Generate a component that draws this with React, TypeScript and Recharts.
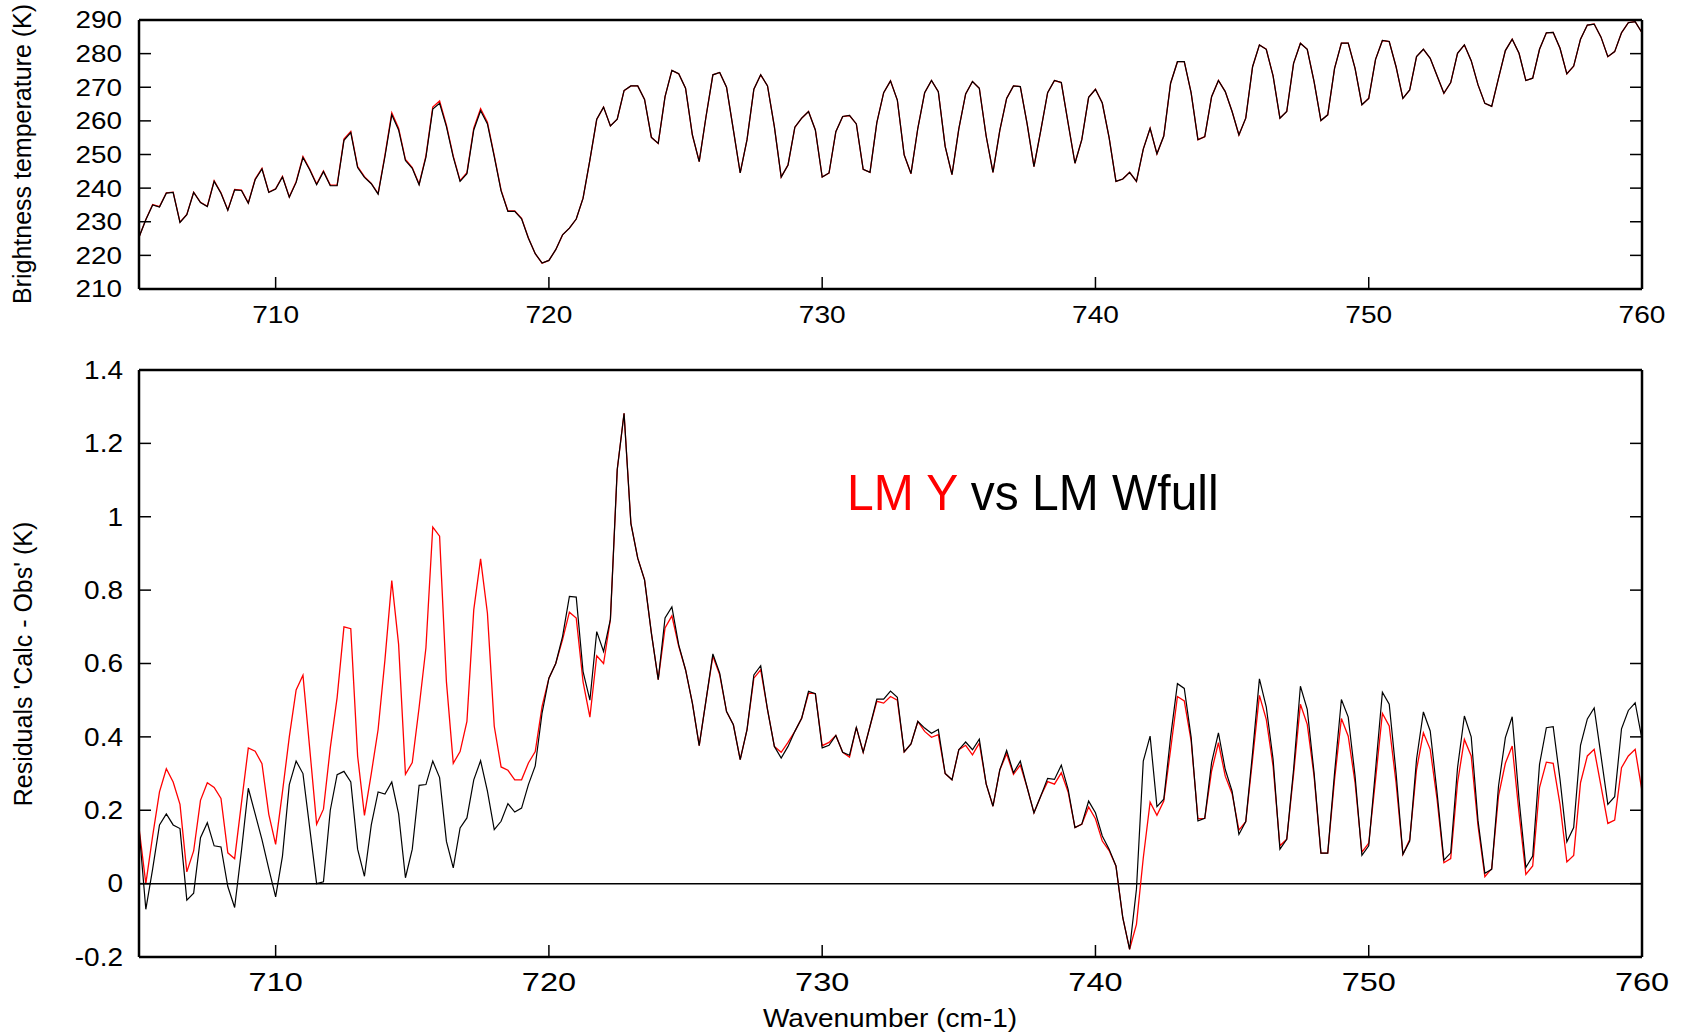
import React from "react";
import { LineChart, Line, XAxis, YAxis, ReferenceLine } from "recharts";

// IASI-like sampling: 705 .. 760 cm-1 every 0.25 cm-1
const WN_START = 705;
const WN_STEP = 0.25;

const xTicks = [710, 720, 730, 740, 750, 760];
const btTicks = [210, 220, 230, 240, 250, 260, 270, 280, 290];
const resTicks = [-0.2, 0, 0.2, 0.4, 0.6, 0.8, 1, 1.2, 1.4];

// brightness temperature (K)
const btLMWfull = [
  225.4, 230.6, 235.0, 234.4, 238.5, 238.7, 229.8, 232.1, 238.7, 235.7,
  234.5, 242.0, 238.5, 233.4, 239.5, 239.3, 235.5, 242.5, 245.7, 238.7,
  239.7, 243.3, 237.3, 241.7, 249.1, 245.4, 241.0, 244.9, 240.7, 240.7,
  254.2, 256.5, 246.1, 243.2, 241.3, 238.2, 249.4, 261.8, 257.3, 248.2,
  245.9, 241.0, 249.2, 263.5, 265.2, 258.3, 249.2, 242.0, 244.3, 257.3,
  263.0, 259.1, 249.4, 239.2, 233.1, 233.1, 230.9, 225.1, 220.5, 217.7,
  218.5, 221.7, 226.1, 228.1, 230.8, 237.0, 248.4, 260.5, 264.1, 258.5,
  260.5, 269.0, 270.4, 270.4, 266.4, 255.1, 253.3, 267.2, 275.0, 274.0,
  269.7, 255.8, 247.9, 261.3, 273.7, 274.4, 270.0, 257.3, 244.5, 254.4,
  269.4, 273.7, 270.4, 258.3, 243.3, 246.9, 258.1, 260.8, 262.8, 257.3,
  243.3, 244.5, 256.8, 261.3, 261.6, 259.1, 245.6, 244.7, 259.5, 268.4,
  271.9, 266.2, 249.9, 244.3, 257.8, 268.4, 272.0, 268.7, 252.4, 244.0,
  257.6, 268.0, 271.7, 269.7, 255.5, 244.7, 257.2, 266.7, 270.4, 270.2,
  259.1, 246.4, 257.2, 268.4, 272.0, 271.4, 259.3, 247.4, 254.4, 267.0,
  269.4, 265.3, 255.0, 242.0, 242.7, 244.7, 242.0, 251.6, 257.8, 250.2,
  255.5, 271.2, 277.6, 277.6, 268.4, 254.4, 255.3, 267.2, 272.0, 268.7,
  262.8, 255.8, 260.8, 276.1, 282.6, 281.3, 273.4, 260.8, 262.8, 277.1,
  283.1, 281.3, 271.7, 260.1, 261.8, 275.6, 283.1, 283.1, 275.6, 264.8,
  266.7, 278.3, 283.9, 283.6, 276.1, 266.7, 269.2, 279.1, 281.3, 278.6,
  273.4, 268.2, 271.4, 280.1, 282.6, 277.9, 270.7, 265.2, 264.3, 272.7,
  280.9, 284.3, 280.1, 272.0, 272.7, 281.3, 286.2, 286.3, 281.6, 274.0,
  276.3, 284.3, 288.5, 288.8, 284.9, 279.1, 280.6, 286.2, 289.2, 289.5,
  286.2,
];

const btLMY = [
  225.4, 230.7, 235.1, 234.5, 238.6, 238.8, 229.9, 232.2, 238.8, 235.8,
  234.6, 242.2, 238.6, 233.5, 239.6, 239.4, 235.6, 242.7, 245.9, 238.8,
  239.8, 243.5, 237.4, 241.9, 249.4, 245.6, 241.2, 245.1, 240.9, 240.9,
  254.6, 256.9, 246.4, 243.4, 241.4, 238.4, 249.8, 262.4, 257.8, 248.5,
  246.1, 241.2, 249.6, 264.1, 265.9, 258.7, 249.5, 242.2, 244.6, 257.8,
  263.6, 259.6, 249.7, 239.4, 233.2, 233.2, 231.0, 225.2, 220.5, 217.7,
  218.5, 221.7, 226.1, 228.1, 230.8, 237.0, 248.3, 260.4, 264.1, 258.5,
  260.5, 269.0, 270.4, 270.4, 266.4, 255.1, 253.3, 267.2, 275.0, 274.0,
  269.7, 255.8, 247.9, 261.3, 273.7, 274.4, 270.0, 257.3, 244.5, 254.4,
  269.4, 273.7, 270.4, 258.3, 243.3, 246.9, 258.1, 260.8, 262.8, 257.3,
  243.3, 244.5, 256.8, 261.3, 261.6, 259.1, 245.6, 244.7, 259.5, 268.4,
  271.9, 266.2, 249.9, 244.3, 257.8, 268.4, 272.0, 268.7, 252.4, 244.0,
  257.6, 268.0, 271.7, 269.7, 255.5, 244.7, 257.2, 266.7, 270.4, 270.2,
  259.1, 246.4, 257.2, 268.4, 272.0, 271.4, 259.3, 247.4, 254.4, 267.0,
  269.4, 265.3, 255.0, 242.0, 242.7, 244.7, 242.0, 251.6, 257.8, 250.2,
  255.5, 271.2, 277.6, 277.6, 268.4, 254.4, 255.3, 267.2, 272.0, 268.7,
  262.8, 255.8, 260.8, 276.1, 282.6, 281.3, 273.4, 260.8, 262.8, 277.1,
  283.1, 281.3, 271.7, 260.1, 261.8, 275.6, 283.1, 283.1, 275.6, 264.8,
  266.7, 278.3, 283.9, 283.6, 276.1, 266.7, 269.2, 279.1, 281.3, 278.6,
  273.4, 268.2, 271.4, 280.1, 282.6, 277.9, 270.7, 265.2, 264.3, 272.7,
  280.9, 284.3, 280.1, 272.0, 272.7, 281.3, 286.2, 286.3, 281.6, 274.0,
  276.3, 284.3, 288.5, 288.8, 284.9, 279.1, 280.6, 286.2, 289.2, 289.5,
  286.2,
];

// residuals calc - obs (K)
const resLMWfull = [
  0.15, -0.07, 0.04, 0.16, 0.19, 0.16, 0.15, -0.045, -0.026, 0.125,
  0.166, 0.103, 0.1, -0.008, -0.065, 0.09, 0.26, 0.19, 0.12, 0.04,
  -0.036, 0.075, 0.27, 0.334, 0.3, 0.15, 0.0, 0.005, 0.2, 0.297,
  0.306, 0.277, 0.094, 0.02, 0.16, 0.25, 0.244, 0.277, 0.19, 0.016,
  0.094, 0.268, 0.27, 0.334, 0.289, 0.115, 0.043, 0.152, 0.179, 0.283,
  0.335, 0.252, 0.147, 0.17, 0.218, 0.195, 0.206, 0.27, 0.321, 0.465,
  0.56, 0.6, 0.674, 0.783, 0.781, 0.578, 0.5, 0.687, 0.633, 0.72,
  1.128, 1.282, 0.982, 0.887, 0.828, 0.683, 0.556, 0.724, 0.754, 0.651,
  0.583, 0.492, 0.376, 0.5, 0.626, 0.574, 0.469, 0.433, 0.338, 0.42,
  0.569, 0.594, 0.474, 0.374, 0.342, 0.374, 0.415, 0.451, 0.524, 0.518,
  0.37, 0.377, 0.404, 0.358, 0.35, 0.426, 0.358, 0.429, 0.503, 0.503,
  0.525, 0.508, 0.359, 0.381, 0.442, 0.424, 0.41, 0.42, 0.3, 0.283,
  0.365, 0.386, 0.365, 0.394, 0.272, 0.211, 0.31, 0.363, 0.302, 0.334,
  0.262, 0.193, 0.239, 0.287, 0.284, 0.323, 0.257, 0.153, 0.162, 0.225,
  0.193, 0.13, 0.094, 0.048, -0.093, -0.179, -0.015, 0.334, 0.402, 0.21,
  0.23, 0.4, 0.545, 0.532, 0.4, 0.171, 0.178, 0.33, 0.411, 0.311,
  0.252, 0.134, 0.169, 0.357, 0.558, 0.482, 0.339, 0.094, 0.121, 0.311,
  0.538, 0.475, 0.302, 0.083, 0.083, 0.302, 0.502, 0.454, 0.293, 0.077,
  0.103, 0.311, 0.522, 0.489, 0.302, 0.08, 0.116, 0.339, 0.468, 0.416,
  0.248, 0.064, 0.084, 0.316, 0.457, 0.4, 0.171, 0.028, 0.039, 0.266,
  0.398, 0.455, 0.23, 0.044, 0.075, 0.325, 0.425, 0.428, 0.284, 0.114,
  0.153, 0.377, 0.449, 0.479, 0.348, 0.216, 0.237, 0.422, 0.472, 0.493,
  0.393,
];

const resLMY = [
  0.153, 0.0, 0.13, 0.25, 0.313, 0.277, 0.216, 0.032, 0.089, 0.227,
  0.275, 0.262, 0.232, 0.084, 0.068, 0.22, 0.37, 0.361, 0.327, 0.189,
  0.107, 0.25, 0.4, 0.528, 0.568, 0.366, 0.162, 0.203, 0.37, 0.507,
  0.7, 0.695, 0.348, 0.186, 0.3, 0.42, 0.61, 0.826, 0.652, 0.298,
  0.33, 0.48, 0.643, 0.972, 0.947, 0.55, 0.328, 0.36, 0.442, 0.746,
  0.885, 0.737, 0.429, 0.318, 0.309, 0.283, 0.283, 0.329, 0.36, 0.483,
  0.56, 0.6, 0.665, 0.74, 0.724, 0.55, 0.454, 0.621, 0.6, 0.72,
  1.128, 1.282, 0.982, 0.887, 0.828, 0.683, 0.556, 0.697, 0.73, 0.647,
  0.583, 0.492, 0.376, 0.5, 0.62, 0.569, 0.469, 0.433, 0.338, 0.42,
  0.56, 0.583, 0.474, 0.374, 0.358, 0.385, 0.415, 0.451, 0.519, 0.518,
  0.376, 0.385, 0.404, 0.358, 0.345, 0.426, 0.358, 0.429, 0.497, 0.492,
  0.51, 0.5, 0.359, 0.381, 0.442, 0.415, 0.399, 0.406, 0.3, 0.283,
  0.365, 0.377, 0.351, 0.383, 0.272, 0.211, 0.31, 0.354, 0.298, 0.323,
  0.262, 0.193, 0.239, 0.278, 0.271, 0.302, 0.25, 0.153, 0.162, 0.209,
  0.177, 0.116, 0.09, 0.048, -0.093, -0.179, -0.111, 0.07, 0.222, 0.186,
  0.225, 0.366, 0.51, 0.498, 0.39, 0.177, 0.178, 0.307, 0.384, 0.293,
  0.245, 0.146, 0.169, 0.339, 0.513, 0.448, 0.32, 0.103, 0.121, 0.298,
  0.489, 0.434, 0.293, 0.083, 0.083, 0.284, 0.45, 0.402, 0.275, 0.086,
  0.11, 0.284, 0.464, 0.43, 0.275, 0.08, 0.12, 0.311, 0.411, 0.366,
  0.23, 0.057, 0.068, 0.275, 0.393, 0.348, 0.157, 0.019, 0.041, 0.239,
  0.328, 0.375, 0.193, 0.025, 0.048, 0.262, 0.331, 0.328, 0.216, 0.059,
  0.077, 0.275, 0.348, 0.366, 0.266, 0.164, 0.173, 0.316, 0.348, 0.366,
  0.252,
];

const rows = btLMWfull.map((_, i) => ({
  wn: WN_START + i * WN_STEP,
  btY: btLMY[i],
  btW: btLMWfull[i],
  resY: resLMY[i],
  resW: resLMWfull[i],
}));

const FONT = "'Liberation Sans', Arial, Helvetica, sans-serif";
const RED = "#ff0000";
const TICK = 12; // inward tick length

// Ticks are drawn by hand inside the plot (gnuplot style): Recharts gives the
// label position, the axis line sits tickMargin away from it.
type Side = "left" | "bottom" | "top" | "right";

const makeTick = (side: Side, gap: number, size = 24, sx = 1) =>
  (p: any) => {
    const { x, y, payload } = p;
    let line;
    if (side === "left") line = <line x1={x + gap} x2={x + gap + TICK} y1={y} y2={y} />;
    else if (side === "bottom") line = <line x1={x} x2={x} y1={y - gap} y2={y - gap - TICK} />;
    else if (side === "top") line = <line x1={x} x2={x} y1={y} y2={y + TICK} />;
    else line = <line x1={x - TICK} x2={x} y1={y} y2={y} />;
    const label = side === "left" || side === "bottom";
    return (
      <g>
        <g stroke="#000" strokeWidth={1.5}>{line}</g>
        {label && (
          <text
            transform={`translate(${x},${y}) scale(${sx},1)`}
            textAnchor={side === "left" ? "end" : "middle"}
            dy={side === "left" ? "0.35em" : "0.71em"}
            fontSize={size}
            fontFamily={FONT}
            fill="#000"
          >
            {payload.value}
          </text>
        )}
      </g>
    );
  };

const frame = { stroke: "#000", strokeWidth: 2.5 };

export default function App() {
  return (
    <div style={{ position: "absolute", left: 0, top: 0, width: 1690, height: 1034, background: "#fff", fontFamily: FONT }}>
      <div style={{ position: "absolute", left: 0, top: 0 }}>
        <LineChart width={1690} height={340} data={rows} margin={{ top: 19, right: 47, bottom: 11, left: 79 }}>
          <XAxis dataKey="wn" type="number" domain={[705, 760]} ticks={xTicks} interval={0} allowDataOverflow
            height={40} axisLine={frame} tickLine={false} tickSize={0} tickMargin={17} tick={makeTick("bottom", 17, 24, 1.17)} />
          <XAxis xAxisId="t" orientation="top" type="number" domain={[705, 760]} ticks={xTicks} interval={0} allowDataOverflow
            height={1} axisLine={frame} tickLine={false} tickSize={0} tickMargin={0} tick={makeTick("top", 0)} />
          <YAxis type="number" domain={[210, 290]} ticks={btTicks} interval={0} allowDataOverflow
            width={60} axisLine={frame} tickLine={false} tickSize={0} tickMargin={17} tick={makeTick("left", 17, 24, 1.16)} />
          <YAxis yAxisId="r" orientation="right" type="number" domain={[210, 290]} ticks={btTicks} interval={0} allowDataOverflow
            width={1} axisLine={frame} tickLine={false} tickSize={0} tickMargin={0} tick={makeTick("right", 0)} />
          <Line dataKey="btY" type="linear" stroke={RED} strokeWidth={1.3} dot={false} isAnimationActive={false} />
          <Line dataKey="btW" type="linear" stroke="#000" strokeWidth={1.2} dot={false} isAnimationActive={false} />
        </LineChart>
      </div>

      <div style={{ position: "absolute", left: 0, top: 340 }}>
        <LineChart width={1690} height={694} data={rows} margin={{ top: 29, right: 47, bottom: 37, left: 79 }}>
          <XAxis dataKey="wn" type="number" domain={[705, 760]} ticks={xTicks} interval={0} allowDataOverflow
            height={40} axisLine={frame} tickLine={false} tickSize={0} tickMargin={16} tick={makeTick("bottom", 16, 25, 1.3)} />
          <XAxis xAxisId="t" orientation="top" type="number" domain={[705, 760]} ticks={xTicks} interval={0} allowDataOverflow
            height={1} axisLine={frame} tickLine={false} tickSize={0} tickMargin={0} tick={makeTick("top", 0)} />
          <YAxis type="number" domain={[-0.2, 1.4]} ticks={resTicks} interval={0} allowDataOverflow
            width={60} axisLine={frame} tickLine={false} tickSize={0} tickMargin={16} tick={makeTick("left", 16, 25, 1.12)} />
          <YAxis yAxisId="r" orientation="right" type="number" domain={[-0.2, 1.4]} ticks={resTicks} interval={0} allowDataOverflow
            width={1} axisLine={frame} tickLine={false} tickSize={0} tickMargin={0} tick={makeTick("right", 0)} />
          <ReferenceLine y={0} stroke="#000" strokeWidth={1.5} />
          <Line dataKey="resY" type="linear" stroke={RED} strokeWidth={1.3} dot={false} isAnimationActive={false} />
          <Line dataKey="resW" type="linear" stroke="#000" strokeWidth={1.2} dot={false} isAnimationActive={false} />
        </LineChart>
      </div>

      {/* axis titles */}
      <div style={{ position: "absolute", left: 22, top: 154, transform: "translate(-50%, -50%) rotate(-90deg)", fontSize: 25, whiteSpace: "nowrap", color: "#000" }}>
        Brightness temperature (K)
      </div>
      <div style={{ position: "absolute", left: 23, top: 664, transform: "translate(-50%, -50%) rotate(-90deg)", fontSize: 25, whiteSpace: "nowrap", color: "#000" }}>
        Residuals 'Calc - Obs' (K)
      </div>
      <div style={{ position: "absolute", left: 890, top: 1018, transform: "translate(-50%, -50%) scaleX(1.12)", fontSize: 25, whiteSpace: "nowrap", color: "#000" }}>
        Wavenumber (cm-1)
      </div>

      {/* annotation */}
      <div style={{ position: "absolute", left: 847, top: 468, fontSize: 50, lineHeight: "50px", whiteSpace: "nowrap", transform: "scaleX(0.96)", transformOrigin: "left center" }}>
        <span style={{ color: RED }}>LM Y</span>
        <span style={{ color: "#000" }}> vs LM Wfull</span>
      </div>
    </div>
  );
}
